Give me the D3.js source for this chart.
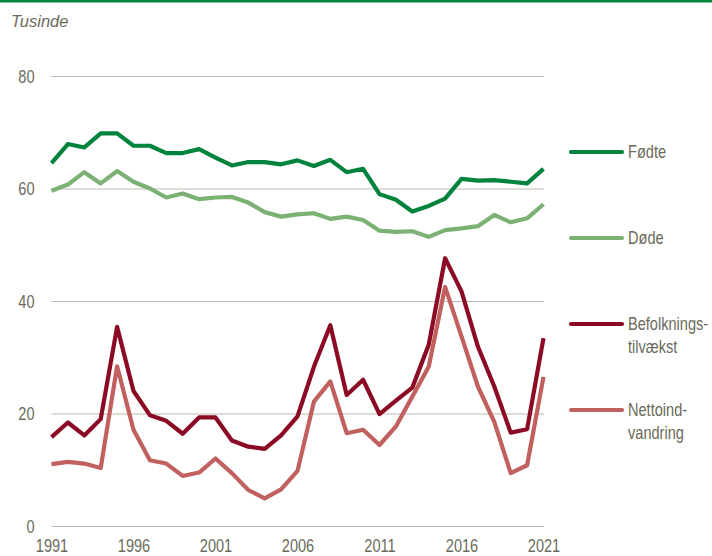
<!DOCTYPE html>
<html>
<head>
<meta charset="utf-8">
<script src="https://cdn.jsdelivr.net/npm/d3@7"></script>
<style>
  body { margin: 0; background: #fff; }
  svg text { font-family: "Liberation Sans", Arial, sans-serif; fill: #6b6b5b; }
</style>
</head>
<body>
<svg id="chart" width="712" height="556"></svg>
<script>
// Years on the x axis
const years = d3.range(1991, 2022);

// Series values (thousands)
const fodte = [64.5, 67.9, 67.3, 69.8, 69.8, 67.6, 67.6, 66.3, 66.3, 67.0, 65.5, 64.1, 64.7, 64.7, 64.3, 65.0,
               64.0, 65.1, 62.9, 63.5, 59.0, 58.0, 55.9, 56.9, 58.2, 61.7, 61.4, 61.5, 61.2, 60.9, 63.5];
const dode = [59.6, 60.7, 62.9, 60.9, 63.1, 61.2, 60.0, 58.4, 59.1, 58.1, 58.4, 58.5, 57.5, 55.8, 55.0, 55.4,
              55.6, 54.6, 55.0, 54.4, 52.5, 52.3, 52.4, 51.4, 52.6, 52.9, 53.3, 55.3, 54.0, 54.7, 57.2];
const befolkning = [15.8, 18.4, 16.1, 19.0, 35.4, 24.0, 19.7, 18.7, 16.4, 19.3, 19.3, 15.2, 14.1, 13.7, 16.1, 19.5,
                    28.3, 35.7, 23.3, 26.0, 19.9, 22.3, 24.6, 32.2, 47.6, 41.7, 31.9, 24.8, 16.6, 17.2, 33.4];
const nettoind = [11.0, 11.4, 11.1, 10.3, 28.4, 17.1, 11.7, 11.1, 8.9, 9.5, 12.0, 9.4, 6.4, 4.9, 6.5, 9.8,
                  22.1, 25.7, 16.5, 17.1, 14.4, 17.7, 23.0, 28.3, 42.5, 33.7, 24.8, 18.5, 9.4, 10.8, 26.5];

const yTicks = [0, 20, 40, 60, 80];
const xTickYears = [1991, 1996, 2001, 2006, 2011, 2016, 2021];

// Series definitions for drawing and legend
const series = [
    { name: ["Fødte"], values: fodte, color: "#00843d", legendY: 152 },
    { name: ["Døde"], values: dode, color: "#7bb274", legendY: 238 },
    { name: ["Befolknings-", "tilvækst"], values: befolkning, color: "#8b0a24", legendY: 324 },
    { name: ["Nettoind-", "vandring"], values: nettoind, color: "#c0605f", legendY: 410 }
];

// no narrow font installed, so squeeze regular text horizontally
const squeeze = 0.81;
const fontSize = "18px";

const svg = d3.select("#chart");

// Green rule along the top
svg.append("rect")
    .attr("x", 0).attr("y", 0)
    .attr("width", 712).attr("height", 2.5)
    .attr("fill", "#00843d");

// Scales
const x = d3.scaleLinear().domain([1991, 2021]).range([51.5, 543.5]);
const y = d3.scaleLinear().domain([0, 80]).range([526, 76]);

// Unit label
svg.append("text")
    .attr("x", 11).attr("y", 27)
    .style("font-style", "italic")
    .style("font-size", "16.5px")
    .text("Tusinde");

// Gridlines + y labels
const yAxis = d3.axisLeft(y).tickValues(yTicks).tickSize(-(544 - 51.5)).tickPadding(0);
const gy = svg.append("g")
    .attr("transform", "translate(51.5,0)")
    .call(yAxis);
gy.select(".domain").remove();
gy.selectAll(".tick line").attr("stroke", "#bdbcac").attr("stroke-width", 1);
gy.selectAll(".tick text")
    .style("font-size", fontSize)
    .attr("x", -17 / squeeze)
    .attr("dy", "0.35em")
    .attr("transform", `scale(${squeeze},1)`);

// x labels
const xAxis = d3.axisBottom(x).tickValues(xTickYears).tickFormat(d3.format("d")).tickSize(0);
const gx = svg.append("g")
    .attr("transform", "translate(0,526)")
    .call(xAxis);
gx.select(".domain").remove();
gx.selectAll(".tick text")
    .style("font-size", fontSize)
    .attr("y", 26)
    .attr("dy", 0)
    .attr("transform", `scale(${squeeze},1)`);

// Lines
const line = d3.line()
    .x((d, i) => x(years[i]))
    .y(d => y(d));

series.forEach(s => {
    svg.append("path")
        .datum(s.values)
        .attr("d", line)
        .attr("fill", "none")
        .attr("stroke", s.color)
        .attr("stroke-width", 4.2)
        .attr("stroke-linejoin", "round");
});

// Legend
series.forEach(s => {
    svg.append("line")
        .attr("x1", 571).attr("x2", 622)
        .attr("y1", s.legendY).attr("y2", s.legendY)
        .attr("stroke", s.color)
        .attr("stroke-width", 4.2)
        .attr("stroke-linecap", "round");
    s.name.forEach((t, i) => {
        svg.append("text")
            .attr("transform", `translate(628,${s.legendY + i * 23}) scale(${squeeze},1)`)
            .attr("dy", "0.35em")
            .style("font-size", fontSize)
            .text(t);
    });
});
</script>
</body>
</html>
